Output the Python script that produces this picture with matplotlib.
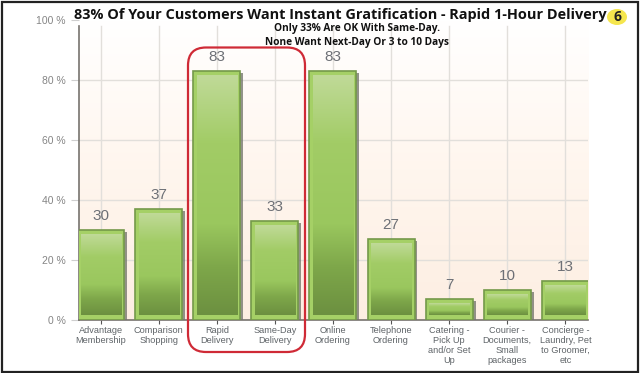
import numpy as np
import matplotlib
matplotlib.use("Agg")
import matplotlib.pyplot as plt
from matplotlib.colors import LinearSegmentedColormap
from matplotlib.patches import FancyBboxPatch, Rectangle, Ellipse

categories = ["Advantage\nMembership", "Comparison\nShopping", "Rapid\nDelivery",
              "Same-Day\nDelivery", "Online\nOrdering", "Telephone\nOrdering",
              "Catering -\nPick Up\nand/or Set\nUp", "Courier -\nDocuments,\nSmall\npackages",
              "Concierge -\nLaundry, Pet\nto Groomer,\netc"]
values = [30, 37, 83, 33, 83, 27, 7, 10, 13]
y_ticks = [0, 20, 40, 60, 80, 100]
title = "83% Of Your Customers Want Instant Gratification - Rapid 1-Hour Delivery"
subtitle = "Only 33% Are OK With Same-Day.\nNone Want Next-Day Or 3 to 10 Days"

W, H = 640, 373
plt.rcParams['font.family'] = ['Liberation Sans', 'DejaVu Sans']

fig = plt.figure(figsize=(W / 100, H / 100), dpi=100)

# axes placed in pixels
left, right, top, bottom = 78.5, 588, 20, 319.5
ax = fig.add_axes([left / W, 1 - bottom / H, (right - left) / W, (bottom - top) / H])

xs = np.arange(len(values))
xlim = (-0.38, 8.39)
bar_w = 0.81

# background fades from white to peach
bg = LinearSegmentedColormap.from_list("bg", ["#fdeee2", "#fff6ee", "#ffffff"])
ax.imshow(np.linspace(0, 1, 256).reshape(-1, 1), cmap=bg, aspect="auto", origin="lower",
          extent=(xlim[0], xlim[1], 0, 100), zorder=0)

for y in y_ticks[1:-1]:
    ax.axhline(y, color="#e2dfdb", lw=1, zorder=1)
for x in xs:
    ax.plot([x, x], [0, 98], color="#e2dfdb", lw=1, zorder=1)

# bars: shadow, outer edge, lighter rim, then the gradient
green = LinearSegmentedColormap.from_list(
    "green", [(0, "#c0da98"), (0.28, "#a2cc66"), (0.62, "#9ac75e"), (0.8, "#7ea74a"), (1, "#6c9040")])
pad_x, pad_y = 0.06, 1.5
for x, v in zip(xs, values):
    ax.add_patch(Rectangle((x - bar_w / 2 + 0.05, 0), bar_w, v - 0.8, color="#77796f", alpha=0.8, lw=0, zorder=2))
    ax.add_patch(Rectangle((x - bar_w / 2, 0), bar_w, v, facecolor="#a5d066", edgecolor="#74994a", lw=1.2, zorder=3))
    ax.imshow(np.linspace(0, 1, 256).reshape(-1, 1), cmap=green, aspect="auto",
              extent=(x - bar_w / 2 + pad_x, x + bar_w / 2 - pad_x, pad_y, v - pad_y), zorder=4)
    ax.text(x, v + 2.2, str(v), ha="center", va="bottom", fontsize=11, color="#6d7076", zorder=5)

ax.set_xlim(*xlim)
ax.set_ylim(0, 100)
ax.patch.set_alpha(0)
for s in ["top", "right"]:
    ax.spines[s].set_visible(False)
ax.spines["left"].set_color("#77736e")
ax.spines["bottom"].set_color("#77736e")
ax.spines["left"].set_linewidth(1.2)
ax.spines["bottom"].set_linewidth(1.2)
ax.spines["left"].set_bounds(0, 98)

ax.set_yticks(y_ticks)
ax.set_yticklabels([f"{y} %" for y in y_ticks], fontsize=7.5, color="#858585")
ax.set_xticks(xs)
ax.set_xticklabels(categories, fontsize=6.6, color="#5f6468", linespacing=1.1)
ax.tick_params(axis="y", length=6, color="#cfcfcf", pad=3)
ax.tick_params(axis="x", length=3, color="#555555", pad=2)

# overlay drawn in figure pixels
over = fig.add_axes([0, 0, 1, 1])
over.set_xlim(0, W)
over.set_ylim(H, 0)
over.axis("off")
over.patch.set_alpha(0)

over.add_patch(FancyBboxPatch((188 + 18, 47.5 + 18), 305 - 188 - 36, 352 - 47.5 - 36,
                              boxstyle="round,pad=18,rounding_size=18", fill=False,
                              edgecolor="#cf2a36", lw=1.6, zorder=10))
over.text(340.5, 14.5, title, ha="center", va="center", fontsize=10.45, fontweight="bold",
          family=["Open Sans", "DejaVu Sans"], color="#111111")
over.text(357, 35.5, subtitle, ha="center", va="center", fontsize=7.3, fontweight="bold",
          family=["Open Sans", "DejaVu Sans"], color="#111111", linespacing=1.35)
over.add_patch(Ellipse((617, 17), 20, 16, color="#f5e64e", lw=0, zorder=10))
over.text(617, 17, "6", ha="center", va="center", fontsize=10, fontweight="bold", color="#222222", zorder=11,
          family=["Open Sans", "DejaVu Sans"])

# picture frame
over.add_patch(Rectangle((2, 1.5), W - 4.5, H - 3, fill=False, edgecolor="#222222", lw=1.6, zorder=12))
over.add_patch(Rectangle((0.5, 0.5), 1, H - 1, color="#222222", lw=0, zorder=12))

fig.savefig("out.png", dpi=100)
